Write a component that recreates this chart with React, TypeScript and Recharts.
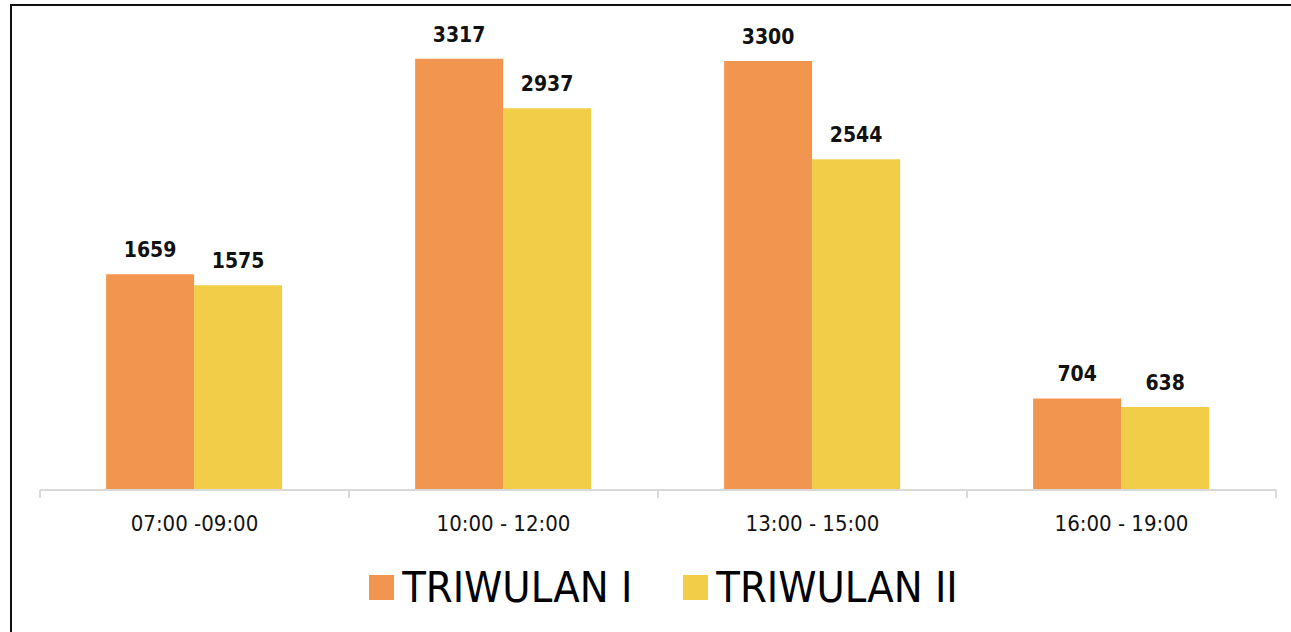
import React from 'react';
import { BarChart, Bar, XAxis, YAxis, Legend, LabelList } from 'recharts';

const categories = ['07:00 -09:00', '10:00 - 12:00', '13:00 - 15:00', '16:00 - 19:00'];
const triwulan1 = [1659, 3317, 3300, 704];
const triwulan2 = [1575, 2937, 2544, 638];

const COLORS = { t1: '#F2954E', t2: '#F1CD48' };
const COND = "'DejaVu Sans Condensed', 'Liberation Sans Narrow', sans-serif";
const AXIS_GRAY = '#d9d9d9';

const data = categories.map((name, i) => ({
  name,
  t1: triwulan1[i],
  t2: triwulan2[i],
}));

// category label plus boundary tick marks (ticks sit between categories, not under them)
const CategoryTick = (props: any) => {
  const { x, y, payload, index, visibleTicksCount, width } = props;
  const half = payload && payload.offset != null ? payload.offset : width / visibleTicksCount / 2;
  const isLast = index === visibleTicksCount - 1;
  return (
    <g>
      <line x1={x - half} x2={x - half} y1={y} y2={y + 8} stroke={AXIS_GRAY} strokeWidth={2} />
      {isLast && <line x1={x + half} x2={x + half} y1={y} y2={y + 8} stroke={AXIS_GRAY} strokeWidth={2} />}
      <text x={x} y={y + 41} textAnchor="middle" fontSize={22} fill="#111" fontFamily={COND}>
        {payload.value}
      </text>
    </g>
  );
};

const renderLegend = (props: any) => {
  const { payload } = props;
  return (
    <div style={{ display: 'flex', justifyContent: 'center', gap: 51, fontFamily: COND }}>
      {payload.map((entry: any) => (
        <div key={entry.value} style={{ display: 'flex', alignItems: 'center', gap: 8 }}>
          <span style={{ width: 25, height: 25, background: entry.color, display: 'inline-block' }} />
          <span style={{ fontSize: 43, color: '#000', lineHeight: '44px' }}>{entry.value}</span>
        </div>
      ))}
    </div>
  );
};

const labelStyle = { fontSize: 21, fontWeight: 700, fill: '#111', fontFamily: COND };

export default function App() {
  return (
    <div style={{ position: 'absolute', left: 0, top: 0, width: 1291, height: 632, overflow: 'hidden', background: '#fff' }}>
      <div
        style={{
          position: 'absolute',
          left: 10,
          top: 4,
          width: 1320,
          height: 700,
          border: '2px solid #111',
          boxSizing: 'border-box',
        }}
      />
      <div style={{ position: 'absolute', left: 0, top: 0 }}>
        <BarChart
          width={1291}
          height={632}
          data={data}
          margin={{ top: 35, right: 15, left: 40, bottom: 82 }}
          barCategoryGap="21.4%"
          barGap={0}
        >
          <XAxis
            dataKey="name"
            height={60}
            axisLine={{ stroke: AXIS_GRAY, strokeWidth: 2 }}
            tickLine={false}
            tickSize={0}
            tickMargin={0}
            interval={0}
            tick={<CategoryTick />}
          />
          <YAxis hide domain={[0, 3500]} />
          <Legend
            verticalAlign="middle"
            layout="horizontal"
            wrapperStyle={{ top: 565, left: 18, width: 1291 }}
            content={renderLegend}
          />
          <Bar dataKey="t1" name="TRIWULAN I" fill={COLORS.t1} isAnimationActive={false}>
            <LabelList dataKey="t1" position="top" offset={17} style={labelStyle} />
          </Bar>
          <Bar dataKey="t2" name="TRIWULAN II" fill={COLORS.t2} isAnimationActive={false}>
            <LabelList dataKey="t2" position="top" offset={17} style={labelStyle} />
          </Bar>
        </BarChart>
      </div>
    </div>
  );
}
